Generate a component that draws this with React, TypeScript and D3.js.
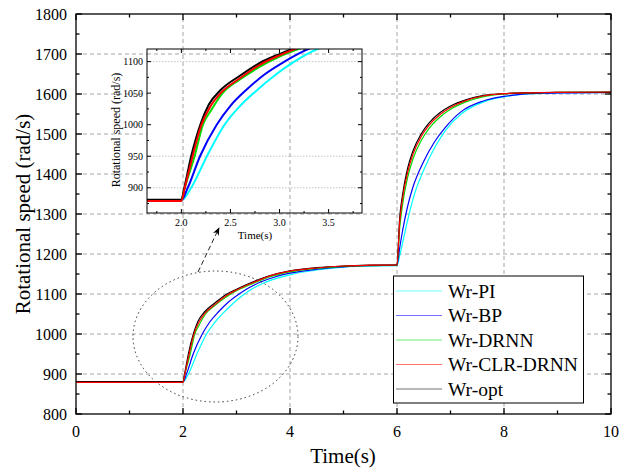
import React from 'react';
import * as d3 from 'd3';

type Pt = [number, number];

// Time (s) / rotational speed (rad/s) samples
const wrPI: Pt[] = [
  [0, 880], [2.0, 880], [2.1, 900], [2.26, 950], [2.44, 1000], [2.6, 1030], [2.75, 1052], [2.95, 1078],
  [3.13, 1098], [3.28, 1112], [3.5, 1127], [3.75, 1139], [4.0, 1148], [4.5, 1160], [5.0, 1167], [5.5, 1170], [6.0, 1171],
  [6.05, 1195], [6.1, 1225], [6.2, 1285], [6.3, 1338], [6.5, 1410], [6.7, 1465], [6.9, 1508], [7.2, 1550],
  [7.5, 1574], [7.8, 1588], [8.2, 1597], [8.6, 1601], [9.0, 1603], [10, 1604],
];
const wrBP: Pt[] = [
  [0, 880], [2.0, 880], [2.065, 900], [2.19, 950], [2.36, 1000], [2.5, 1030], [2.66, 1055], [2.85, 1080],
  [3.05, 1100], [3.2, 1113], [3.45, 1130], [3.7, 1142], [4.0, 1152], [4.5, 1162], [5.0, 1168], [5.5, 1171], [6.0, 1172],
  [6.05, 1215], [6.1, 1255], [6.2, 1320], [6.3, 1368], [6.5, 1432], [6.7, 1480], [6.9, 1516], [7.2, 1556],
  [7.6, 1582], [8.0, 1594], [8.3, 1599], [8.7, 1602], [9.2, 1603], [10, 1604],
];
const wrDRNN: Pt[] = [
  [0, 880], [2.0, 880], [2.035, 900], [2.135, 950], [2.22, 1000], [2.3, 1022], [2.42, 1050], [2.6, 1072],
  [2.8, 1092], [3.0, 1108], [3.3, 1126], [3.6, 1142], [4.0, 1155], [4.5, 1164], [5.0, 1169], [5.5, 1171], [6.0, 1172],
  [6.05, 1265], [6.1, 1320], [6.2, 1392], [6.3, 1438], [6.45, 1483], [6.6, 1514], [6.8, 1542], [7.0, 1562],
  [7.3, 1581], [7.6, 1593], [8.0, 1600], [8.5, 1603], [9.0, 1604], [10, 1605],
];
const wrCLRDRNN: Pt[] = [
  [0, 879], [2.0, 879], [2.035, 900], [2.115, 950], [2.2, 998], [2.3, 1030], [2.4, 1050], [2.6, 1074],
  [2.8, 1095], [3.0, 1110], [3.3, 1128], [3.6, 1144], [4.0, 1157], [4.5, 1165], [5.0, 1170], [5.5, 1172], [6.0, 1173],
  [6.05, 1280], [6.1, 1335], [6.2, 1405], [6.3, 1450], [6.45, 1493], [6.6, 1522], [6.8, 1548], [7.0, 1566],
  [7.3, 1584], [7.6, 1595], [8.0, 1601], [8.5, 1603], [9.0, 1604], [10, 1605],
];
const wrOpt: Pt[] = [
  [0, 881], [2.0, 881], [2.03, 900], [2.1, 950], [2.2, 1003], [2.28, 1032], [2.4, 1055], [2.6, 1078],
  [2.8, 1098], [3.0, 1112], [3.3, 1130], [3.6, 1145], [4.0, 1158], [4.5, 1166], [5.0, 1170], [5.5, 1172], [6.0, 1173],
  [6.05, 1290], [6.1, 1345], [6.2, 1415], [6.3, 1458], [6.45, 1500], [6.6, 1528], [6.8, 1553], [7.0, 1570],
  [7.3, 1586], [7.6, 1596], [8.0, 1601], [8.5, 1603], [9.0, 1604], [10, 1604],
];

const seriesNames = ['Wr-PI', 'Wr-BP', 'Wr-DRNN', 'Wr-CLR-DRNN', 'Wr-opt'];
const seriesColors = ['#00FFFF', '#0000FF', '#00DD00', '#FF0000', '#000000'];
const seriesData = [wrPI, wrBP, wrDRNN, wrCLRDRNN, wrOpt];
const drawOrder = [0, 1, 2, 4, 3];

const xTicks = [0, 2, 4, 6, 8, 10];
const xMinor = [1, 3, 5, 7, 9];
const yTicks = [800, 900, 1000, 1100, 1200, 1300, 1400, 1500, 1600, 1700, 1800];
const yMinor = [850, 950, 1050, 1150, 1250, 1350, 1450, 1550, 1650, 1750];
const insetXTicks = [2.0, 2.5, 3.0, 3.5];
const insetXMinor = [1.75, 2.25, 2.75, 3.25, 3.75];
const insetYTicks = [900, 950, 1000, 1050, 1100];
const insetYMinor = [875, 925, 975, 1025, 1075];
const insetYGrid = [900, 950, 1100];

const FONT = '"Liberation Serif", "Times New Roman", serif';

export default function App() {
  const x = d3.scaleLinear().domain([0, 10]).range([76, 611]);
  const y = d3.scaleLinear().domain([800, 1800]).range([414, 14]);
  const ix = d3.scaleLinear().domain([1.65, 3.84]).range([147, 362]);
  const iy = d3.scaleLinear().domain([860, 1120]).range([213, 49]);

  const line = d3.line<Pt>().x((d) => x(d[0])).y((d) => y(d[1])).curve(d3.curveMonotoneX);
  const iline = d3.line<Pt>().x((d) => ix(d[0])).y((d) => iy(d[1])).curve(d3.curveMonotoneX);

  const [x0, x1] = x.range();
  const [y0, y1] = y.range();
  const [ix0, ix1] = ix.range();
  const [iy0, iy1] = iy.range();

  const gridStroke = '#9a9a9a';
  const showThroughX = [2, 4];
  const showThroughY = [1700];

  return (
    <svg width={619} height={470} style={{ position: 'absolute', left: 0, top: 0, background: '#fff' }} fontFamily={FONT}>
      <defs>
        <clipPath id="mainClip">
          <rect x={x0} y={y1} width={x1 - x0} height={y0 - y1} />
        </clipPath>
        <clipPath id="insetClip">
          <rect x={ix0} y={iy1} width={ix1 - ix0} height={iy0 - iy1} />
        </clipPath>
        <marker id="arrowHead" viewBox="0 0 10 10" refX="9" refY="5" markerWidth="8" markerHeight="8" orient="auto" markerUnits="userSpaceOnUse">
          <path d="M0,1 L10,5 L0,9 L3,5 Z" fill="#000" />
        </marker>
      </defs>
      <rect x={0} y={0} width={619} height={470} fill="#fff" />

      {/* main grid */}
      {xTicks.filter((t) => t > 0 && t < 10).map((t) => (
        <line key={'gx' + t} x1={x(t)} x2={x(t)} y1={y0} y2={y1} stroke={gridStroke} strokeWidth={0.9} strokeDasharray="4 3" />
      ))}
      {yTicks.filter((t) => t > 800 && t < 1800).map((t) => (
        <line key={'gy' + t} x1={x0} x2={x1} y1={y(t)} y2={y(t)} stroke={gridStroke} strokeWidth={0.9} strokeDasharray="4 3" />
      ))}

      {/* main curves */}
      <g clipPath="url(#mainClip)">
        {drawOrder.map((i) => (
          <path key={'m' + i} d={line(seriesData[i]) || ''} fill="none" stroke={seriesColors[i]} strokeWidth={1.2} />
        ))}
      </g>

      {/* main frame and ticks */}
      <rect x={x0} y={y1} width={x1 - x0} height={y0 - y1} fill="none" stroke="#000" strokeWidth={1.3} />
      {xTicks.map((t) => (
        <g key={'xt' + t}>
          <line x1={x(t)} x2={x(t)} y1={y0} y2={y0 - 6} stroke="#000" strokeWidth={1.3} />
          <line x1={x(t)} x2={x(t)} y1={y1} y2={y1 + 6} stroke="#000" strokeWidth={1.3} />
          <text x={x(t)} y={437} fontSize={16} textAnchor="middle" fill="#000">{t}</text>
        </g>
      ))}
      {xMinor.map((t) => (
        <g key={'xm' + t}>
          <line x1={x(t)} x2={x(t)} y1={y0} y2={y0 - 3.5} stroke="#000" strokeWidth={1.3} />
          <line x1={x(t)} x2={x(t)} y1={y1} y2={y1 + 3.5} stroke="#000" strokeWidth={1.3} />
        </g>
      ))}
      {yTicks.map((t) => (
        <g key={'yt' + t}>
          <line x1={x0} x2={x0 + 6} y1={y(t)} y2={y(t)} stroke="#000" strokeWidth={1.3} />
          <line x1={x1} x2={x1 - 6} y1={y(t)} y2={y(t)} stroke="#000" strokeWidth={1.3} />
          <text x={67} y={y(t) + 5.5} fontSize={16} textAnchor="end" fill="#000">{t}</text>
        </g>
      ))}
      {yMinor.map((t) => (
        <g key={'ym' + t}>
          <line x1={x0} x2={x0 + 3.5} y1={y(t)} y2={y(t)} stroke="#000" strokeWidth={1.3} />
          <line x1={x1} x2={x1 - 3.5} y1={y(t)} y2={y(t)} stroke="#000" strokeWidth={1.3} />
        </g>
      ))}

      {/* axis titles */}
      <text x={343} y={463} fontSize={21} textAnchor="middle" fill="#000">Time(s)</text>
      <text transform="translate(30,214) rotate(-90)" fontSize={21} textAnchor="middle" fill="#000">Rotational speed (rad/s)</text>

      {/* zoom ellipse and arrow */}
      <ellipse cx={215.5} cy={336.5} rx={82.5} ry={65.5} fill="none" stroke="#333" strokeWidth={1} strokeDasharray="1.5 3" />
      <line x1={198} y1={272} x2={219} y2={228} stroke="#222" strokeWidth={1} strokeDasharray="5 3" markerEnd="url(#arrowHead)" />

      {/* inset */}
      <rect x={ix0} y={iy1} width={ix1 - ix0} height={iy0 - iy1} fill="#fff" />
      {insetYGrid.map((t) => (
        <line key={'igy' + t} x1={ix0} x2={ix1} y1={iy(t)} y2={iy(t)} stroke="#b5b5b5" strokeWidth={0.8} strokeDasharray="1.5 1.5" />
      ))}
      {showThroughX.map((t) => (
        <line key={'stx' + t} x1={x(t)} x2={x(t)} y1={iy0} y2={iy1} stroke={gridStroke} strokeWidth={0.9} strokeDasharray="4 3" />
      ))}
      {showThroughY.map((t) => (
        <line key={'sty' + t} x1={ix0} x2={ix1} y1={y(t)} y2={y(t)} stroke={gridStroke} strokeWidth={0.9} strokeDasharray="4 3" />
      ))}
      <g clipPath="url(#insetClip)">
        {drawOrder.map((i) => (
          <path key={'i' + i} d={iline(seriesData[i]) || ''} fill="none" stroke={seriesColors[i]} strokeWidth={2} />
        ))}
      </g>
      <rect x={ix0} y={iy1} width={ix1 - ix0} height={iy0 - iy1} fill="none" stroke="#000" strokeWidth={1} />
      {insetXTicks.map((t) => (
        <g key={'ixt' + t}>
          <line x1={ix(t)} x2={ix(t)} y1={iy0} y2={iy0 - 4} stroke="#000" strokeWidth={1} />
          <line x1={ix(t)} x2={ix(t)} y1={iy1} y2={iy1 + 4} stroke="#000" strokeWidth={1} />
          <text x={ix(t)} y={226} fontSize={10} textAnchor="middle" fill="#000">{t.toFixed(1)}</text>
        </g>
      ))}
      {insetXMinor.map((t) => (
        <g key={'ixm' + t}>
          <line x1={ix(t)} x2={ix(t)} y1={iy0} y2={iy0 - 2} stroke="#000" strokeWidth={1} />
          <line x1={ix(t)} x2={ix(t)} y1={iy1} y2={iy1 + 2} stroke="#000" strokeWidth={1} />
        </g>
      ))}
      {insetYTicks.map((t) => (
        <g key={'iyt' + t}>
          <line x1={ix0} x2={ix0 + 4} y1={iy(t)} y2={iy(t)} stroke="#000" strokeWidth={1} />
          <line x1={ix1} x2={ix1 - 4} y1={iy(t)} y2={iy(t)} stroke="#000" strokeWidth={1} />
          <text x={143} y={iy(t) + 3.5} fontSize={10} textAnchor="end" fill="#000">{t}</text>
        </g>
      ))}
      {insetYMinor.map((t) => (
        <g key={'iym' + t}>
          <line x1={ix0} x2={ix0 + 2} y1={iy(t)} y2={iy(t)} stroke="#000" strokeWidth={1} />
          <line x1={ix1} x2={ix1 - 2} y1={iy(t)} y2={iy(t)} stroke="#000" strokeWidth={1} />
        </g>
      ))}
      <text x={255} y={239} fontSize={11} textAnchor="middle" fill="#000">Time(s)</text>
      <text transform="translate(120,130) rotate(-90)" fontSize={12} textAnchor="middle" fill="#000">Rotational speed (rad/s)</text>

      {/* legend */}
      <rect x={393.5} y={276} width={190} height={127} fill="#fff" stroke="#000" strokeWidth={1} />
      {seriesNames.map((name, i) => {
        const ly = 291 + i * 24.5;
        return (
          <g key={'lg' + i}>
            <line x1={396} x2={442} y1={ly} y2={ly} stroke={seriesColors[i]} strokeWidth={1} opacity={0.55} />
            <text x={448} y={ly + 6.5} fontSize={19.5} fill="#000">{name}</text>
          </g>
        );
      })}
    </svg>
  );
}
